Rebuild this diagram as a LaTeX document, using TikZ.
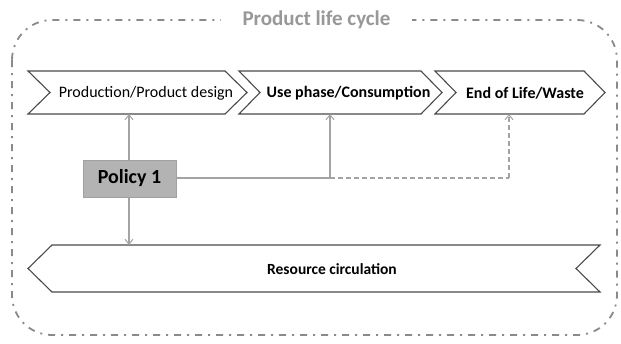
\documentclass[tikz,border=0pt]{standalone}
\usepackage{fontspec}
\setmainfont{Carlito}
\usetikzlibrary{arrows.meta}
\definecolor{outlinecol}{HTML}{4A4A4A}
\definecolor{conncol}{HTML}{A3A3A3}
\definecolor{framecol}{HTML}{8A8A8A}
\definecolor{policyfill}{HTML}{B3B3B3}
\definecolor{titlecol}{HTML}{989898}
\begin{document}
\begin{tikzpicture}[x=1pt,y=-1pt,
  frameline/.style={draw=framecol, line width=1.8pt, dash pattern=on 7pt off 6pt on 2pt off 6pt, rounded corners=40pt},
  titletext/.style={font=\fontsize{21}{24}\selectfont\bfseries, text=titlecol, fill=white, inner xsep=22pt, inner ysep=2pt},
  chev/.style={draw=outlinecol, line width=1.1pt, fill=white, line join=miter},
  chevtext/.style={font=\fontsize{16}{19}\selectfont, text=black, inner sep=0pt},
  chevbold/.style={chevtext, font=\fontsize{16}{19}\selectfont\bfseries},
  policybox/.style={fill=policyfill, draw=policyfill!90!black, line width=0.4pt, minimum width=93pt, minimum height=37pt, inner sep=0pt, font=\fontsize{20}{24}\selectfont\bfseries},
  conn/.style={draw=conncol, line width=1.1pt},
  connarrow/.style={conn, -{Straight Barb[length=5pt,width=8pt,line width=1pt]}}
]
\useasboundingbox (0,0) rectangle (621,343);
\fill[white] (0,0) rectangle (621,343);

% outer frame
\draw[frameline] (12,20) rectangle (617,335);
\node[titletext] (title) at (316.5,20) {Product life cycle};

% chevrons
\draw[chev] (28,71) -- (225,71) -- (247,92.5) -- (225,114) -- (28,114) -- (50,92.5) -- cycle;
\draw[chev] (239,71) -- (421,71) -- (442,92.5) -- (421,114) -- (239,114) -- (260,92.5) -- cycle;
\draw[chev] (435,71) -- (584,71) -- (605,92.5) -- (584,114) -- (435,114) -- (456,92.5) -- cycle;
\node[chevtext] (prod) at (146,93) {Production/Product design};
\node[chevbold] (use) at (348.5,93) {Use phase/Consumption};
\node[chevbold] (eol) at (525,93) {End of Life/Waste};

% resource circulation
\draw[chev] (28,268.5) -- (52,245) -- (600,245) -- (576,268.5) -- (600,292) -- (52,292) -- cycle;
\node[chevbold, font=\fontsize{15.5}{18}\selectfont\bfseries] (res) at (332,269) {Resource circulation};

% connector anchors
\coordinate (c1b) at (129,114);
\coordinate (c2b) at (330,114);
\coordinate (c3b) at (509,114);
\coordinate (rtop) at (129,245);
\coordinate (j1) at (330,178);
\coordinate (j2) at (509,178);

% policy
\node[policybox] (policy) at (129.5,178.5) {Policy 1};

\draw[connarrow] (policy.north -| c1b) -- (c1b);
\draw[connarrow] (policy.south -| rtop) -- (rtop);
\draw[conn] (policy.east |- j1) -- (j1);
\draw[connarrow] (j1) -- (c2b);
\draw[conn, dash pattern=on 5pt off 3pt] (j1) -- (j2);
\draw[connarrow, dash pattern=on 5pt off 3pt] (j2) -- (c3b);
\end{tikzpicture}
\end{document}
